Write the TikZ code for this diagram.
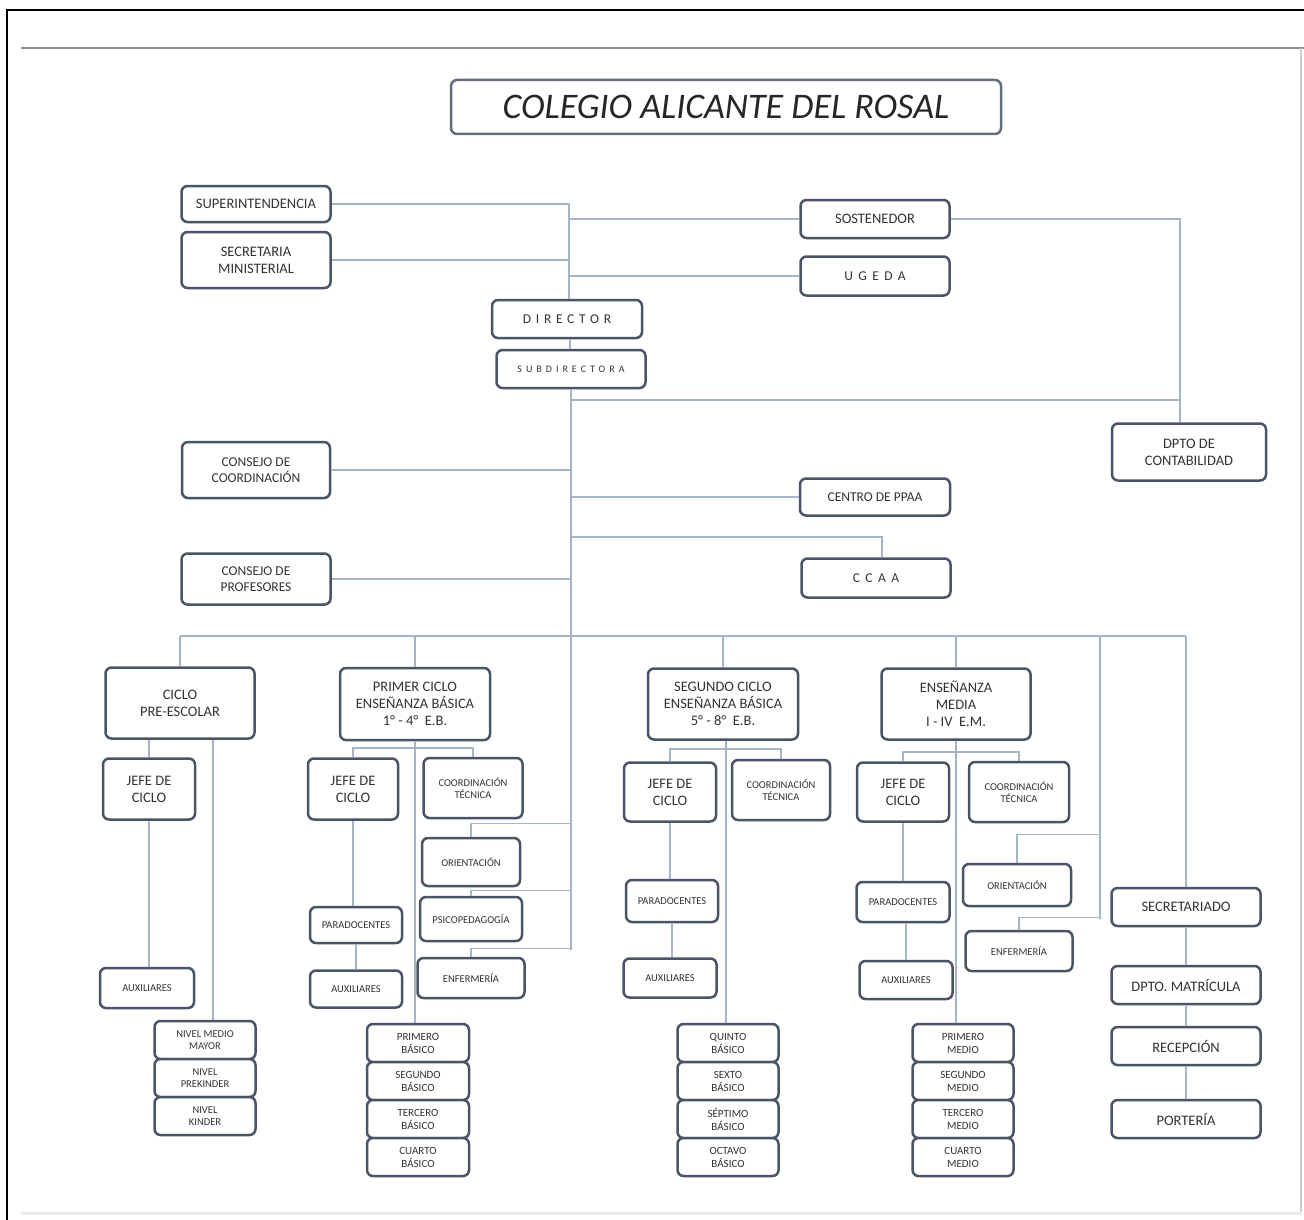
\documentclass[tikz,border=0pt]{standalone}
\usepackage{fontspec}
\setmainfont{Carlito}
\definecolor{boxc}{HTML}{4A5466}
\definecolor{linec}{HTML}{A7B4C6}
\definecolor{txt}{HTML}{333333}
\newcommand\spc[2]{{\addfontfeature{LetterSpace=#1}#2}}
\begin{document}
\begin{tikzpicture}[x=1pt,y=-1pt,
  box/.style={draw=boxc, line width=2.5pt, rounded corners=6pt, fill=white, align=center, text=txt, inner sep=1pt},
  sz/.style 2 args={minimum width=#1, minimum height=#2},
  conn/.style={draw=linec, line width=1.4pt},
  fA/.style={font=\fontsize{14.5}{17}\selectfont},
  fB/.style={font=\fontsize{13.5}{16.5}\selectfont},
  fC/.style={font=\fontsize{10.5}{12.5}\selectfont},
  fE/.style={font=\fontsize{11}{13}\selectfont}]
\useasboundingbox (0,0) rectangle (1304,1220);
\fill[white] (0,0) rectangle (1304,1220);
% frame
\draw[black, line width=1.2pt] (7,1220) -- (7,10) -- (1304,10);
\draw[black!45, line width=2.5pt] (21,48) -- (1304,48);
\draw[black!20, line width=1.5pt] (1301,48) -- (1301,1212);
\draw[black!8, line width=3pt] (21,1213) -- (1301,1213);

% title
\node[box, sz={550}{54}, draw=boxc!85, font=\fontsize{36}{40}\selectfont\itshape, text=black!85] (title) at (726,107) {COLEGIO ALICANTE DEL ROSAL};

% top level
\node[box, sz={149}{36}, fA] (sup) at (256,204) {SUPERINTENDENCIA};
\node[box, sz={149}{56}, fA] (sec) at (256,260) {SECRETARIA\\MINISTERIAL};
\node[box, sz={149}{38}, fA] (sost) at (875,219) {SOSTENEDOR};
\node[box, sz={149}{39}, fB] (ugeda) at (875,276) {\spc{40}{UGEDA}};
\node[box, sz={150}{38}, fB] (dir) at (567,319) {\spc{35}{DIRECTOR}};
\node[box, sz={149}{38}, font=\fontsize{10}{12}\selectfont] (sub) at (571,369) {\spc{40}{SUBDIRECTORA}};
\node[box, sz={154}{57}, fA] (opto) at (1189,452) {DPTO DE\\CONTABILIDAD};
\node[box, sz={148}{56}, fB] (ccoord) at (256,470) {CONSEJO DE\\COORDINACIÓN};
\node[box, sz={150}{37}, fB] (ppaa) at (875,497) {CENTRO DE PPAA};
\node[box, sz={149}{39}, fB] (ccaa) at (876,578) {\spc{40}{CCAA}};
\node[box, sz={149}{51}, fB] (prof) at (256,579) {CONSEJO DE\\PROFESORES};

% cycles
\node[box, sz={149}{71}, fA] (pre) at (180,703) {CICLO\\PRE-ESCOLAR};
\node[box, sz={150}{72}, fA] (p1) at (415,704) {PRIMER CICLO\\ENSEÑANZA BÁSICA\\1° - 4°~~E.B.};
\node[box, sz={150}{71}, fA] (s2) at (723,704) {SEGUNDO CICLO\\ENSEÑANZA BÁSICA\\5° - 8°~~E.B.};
\node[box, sz={149}{71}, fA] (em) at (956,704) {ENSEÑANZA\\MEDIA\\I - IV~~E.M.};

% pre-escolar
\node[box, sz={92}{61}, fA] (jpre) at (149,789) {JEFE DE\\CICLO};
\node[box, sz={94}{40}, fC] (auxp) at (147,988) {AUXILIARES};
\node[box, sz={101}{38}, fC] (nmm) at (205,1040) {NIVEL MEDIO\\MAYOR};
\node[box, sz={101}{38}, fC] (npk) at (205,1078) {NIVEL\\PREKINDER};
\node[box, sz={101}{38}, fC] (nk) at (205,1116) {NIVEL\\KINDER};

% primer ciclo
\node[box, sz={90}{61}, fA] (j1) at (353,789) {JEFE DE\\CICLO};
\node[box, sz={99}{60}, fC] (c1) at (473,788) {COORDINACIÓN\\TÉCNICA};
\node[box, sz={98}{48}, fC] (or1) at (471,862) {ORIENTACIÓN};
\node[box, sz={102}{44}, fC] (ps1) at (471,919) {PSICOPEDAGOGÍA};
\node[box, sz={107}{40}, fC] (en1) at (471,978) {ENFERMERÍA};
\node[box, sz={92}{36}, fC] (para1) at (356,925) {PARADOCENTES};
\node[box, sz={92}{37}, fC] (aux1) at (356,989) {AUXILIARES};
\node[box, sz={102}{38}, fE] (b1) at (418,1043) {PRIMERO\\BÁSICO};
\node[box, sz={102}{38}, fE] (b2) at (418,1081) {SEGUNDO\\BÁSICO};
\node[box, sz={102}{38}, fE] (b3) at (418,1119) {TERCERO\\BÁSICO};
\node[box, sz={102}{38}, fE] (b4) at (418,1157) {CUARTO\\BÁSICO};

% segundo ciclo
\node[box, sz={92}{59}, fA] (j2) at (670,792) {JEFE DE\\CICLO};
\node[box, sz={98}{60}, fC] (c2) at (781,790) {COORDINACIÓN\\TÉCNICA};
\node[box, sz={92}{42}, fC] (para2) at (672,901) {PARADOCENTES};
\node[box, sz={93}{39}, fC] (aux2) at (670,978) {AUXILIARES};
\node[box, sz={101}{38}, fE] (q1) at (728,1043) {QUINTO\\BÁSICO};
\node[box, sz={101}{38}, fE] (q2) at (728,1081) {SEXTO\\BÁSICO};
\node[box, sz={101}{38}, fE] (q3) at (728,1119) {SÉPTIMO\\BÁSICO};
\node[box, sz={101}{38}, fE] (q4) at (728,1157) {OCTAVO\\BÁSICO};

% media
\node[box, sz={92}{59}, fA] (jm) at (903,792) {JEFE DE\\CICLO};
\node[box, sz={100}{60}, fC] (cm) at (1019,792) {COORDINACIÓN\\TÉCNICA};
\node[box, sz={93}{40}, fC] (param) at (903,902) {PARADOCENTES};
\node[box, sz={93}{38}, fC] (auxm) at (906,980) {AUXILIARES};
\node[box, sz={108}{42}, fC] (orm) at (1017,885) {ORIENTACIÓN};
\node[box, sz={107}{40}, fC] (enm) at (1019,951) {ENFERMERÍA};
\node[box, sz={101}{38}, fE] (m1) at (963,1043) {PRIMERO\\MEDIO};
\node[box, sz={101}{38}, fE] (m2) at (963,1081) {SEGUNDO\\MEDIO};
\node[box, sz={101}{38}, fE] (m3) at (963,1119) {TERCERO\\MEDIO};
\node[box, sz={101}{38}, fE] (m4) at (963,1157) {CUARTO\\MEDIO};

% administration
\node[box, sz={149}{38}, fA] (secr) at (1186,907) {SECRETARIADO};
\node[box, sz={149}{38}, fA] (mat) at (1186,985) {DPTO. MATRÍCULA};
\node[box, sz={149}{38}, fA] (rec) at (1186,1046) {RECEPCIÓN};
\node[box, sz={149}{38}, fA] (port) at (1186,1119) {PORTERÍA};

% ---------- connectors ----------
\coordinate (tA) at (569,204);
\coordinate (oc) at (1180,219);
\coordinate (h400) at (571,400);
\coordinate (tE) at (571,950);
\coordinate (cca) at (571,537);
\coordinate (bus) at (0,636);
\coordinate (rv) at (1100,636);
\coordinate (rvE) at (1100,919);
\coordinate (y748) at (0,748);
\coordinate (y749) at (0,749);
\coordinate (y752) at (0,752);

\draw[conn] (sup.east) -- (tA) -- (tA |- dir.north);
\draw[conn] (sec.east) -- (sec.east -| tA);
\draw[conn] (sost.west) -- (sost.west -| tA);
\draw[conn] (ugeda.west) -- (ugeda.west -| tA);
\draw[conn] ([xshift=3pt]dir.south) -- ([xshift=3pt]dir.south |- sub.north);
\draw[conn] (sost.east) -- (oc) -- (oc |- opto.north);
\draw[conn] (sub.south) -- (tE);
\draw[conn] (h400) -- (h400 -| oc);
\draw[conn] (ccoord.east) -- (ccoord.east -| h400);
\draw[conn] (ppaa.west) -- (ppaa.west -| h400);
\draw[conn] (cca) -- ([xshift=6pt]cca -| ccaa.north) -- ([xshift=6pt]ccaa.north);
\draw[conn] (prof.east) -- (prof.east -| h400);
% bus
\draw[conn] (pre.north |- bus) -- (secr.north |- bus);
\draw[conn] (pre.north |- bus) -- (pre.north);
\draw[conn] (p1.north |- bus) -- (p1.north);
\draw[conn] (s2.north |- bus) -- (s2.north);
\draw[conn] (em.north |- bus) -- (em.north);
\draw[conn] (rv) -- (rvE);
\draw[conn] (secr.north |- bus) -- (secr.north);
% pre-escolar
\draw[conn] (pre.south -| jpre.north) -- (jpre.north);
\draw[conn] (jpre.south) -- (jpre.south |- auxp.north);
\draw[conn] ([xshift=33pt]pre.south) -- ([xshift=33pt]pre.south |- nmm.north);
% primer ciclo
\draw[conn] (j1.north) -- (j1.north |- y748) -- (c1.north |- y748) -- (c1.north);
\draw[conn] (p1.south) -- (p1.south |- b1.north);
\draw[conn] (j1.south) -- (j1.south |- para1.north);
\draw[conn] (para1.south) -- (para1.south |- aux1.north);
\draw[conn] (or1.north) -- ++(0,-13) coordinate (o1) -- (o1 -| tE);
\draw[conn] (ps1.north) -- ++(0,-5) coordinate (o2) -- (o2 -| tE);
\draw[conn] (en1.north) -- ++(0,-8) coordinate (o3) -- (o3 -| tE);
% segundo ciclo
\draw[conn] (j2.north) -- (j2.north |- y749) -- (c2.north |- y749) -- (c2.north);
\draw[conn] ([xshift=3pt]s2.south) -- ([xshift=3pt]s2.south |- q1.north);
\draw[conn] (j2.south) -- (j2.south |- para2.north);
\draw[conn] (para2.south) -- (para2.south |- aux2.north);
% media
\draw[conn] (jm.north) -- (jm.north |- y752) -- (cm.north |- y752) -- (cm.north);
\draw[conn] (em.south) -- (em.south |- m1.north);
\draw[conn] (jm.south) -- (jm.south |- param.north);
\draw[conn] ([xshift=3pt]param.south) -- ([xshift=3pt]param.south |- auxm.north);
\draw[conn] (orm.north) -- ++(0,-28) coordinate (o4) -- (o4 -| rv);
\draw[conn] (enm.north) -- ++(0,-12) coordinate (o5) -- (o5 -| rv);
% administration
\draw[conn] (secr.south) -- (mat.north);
\draw[conn] (mat.south) -- (rec.north);
\draw[conn] (rec.south) -- (port.north);
\end{tikzpicture}
\end{document}
